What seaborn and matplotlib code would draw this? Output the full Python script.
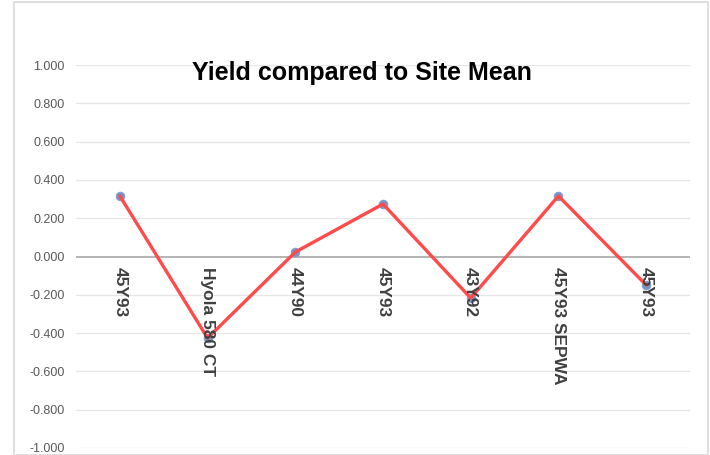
import numpy as np
import pandas as pd
import seaborn as sns
import matplotlib.pyplot as plt
from matplotlib.patches import Rectangle

varieties = ['45Y93', 'Hyola 580 CT', '44Y90', '45Y93', '43Y92', '45Y93 SEPWA', '45Y93']
yield_diff = [0.316, -0.426, 0.023, 0.274, -0.217, 0.316, -0.149]
y_ticks = [-1.0, -0.8, -0.6, -0.4, -0.2, 0.0, 0.2, 0.4, 0.6, 0.8, 1.0]

df = pd.DataFrame({'pos': np.arange(len(varieties)), 'diff': yield_diff})

sns.set_style('white')
plt.rcParams['font.family'] = ['Liberation Sans', 'DejaVu Sans']

fig = plt.figure(figsize=(7.1, 4.55), dpi=100)
ax = fig.add_axes([76 / 710, 1 - 448 / 455, 614 / 710, 383 / 455])

# chart border
fig.patches.append(Rectangle((14 / 710, 0), 694 / 710, 1 - 2 / 455, transform=fig.transFigure,
                             fill=False, edgecolor='#d9d9d9', linewidth=1.2))

for t in y_ticks:
    if t != 0:
        ax.axhline(t, color='#e6e6e6', linewidth=0.9, zorder=0)
ax.axhline(0, color='#b3b3b3', linewidth=1.4, zorder=1)

sns.scatterplot(data=df, x='pos', y='diff', ax=ax, color='#7594c8', s=40,
                edgecolor='#7f9fcf', linewidth=0.5, zorder=2, legend=False)
sns.lineplot(data=df, x='pos', y='diff', ax=ax, sort=False, color='#ff4b4b',
             linewidth=2.4, zorder=3)

for i, name in enumerate(varieties):
    ax.text(i, -0.055, name, rotation=-90, ha='center', va='top', fontsize=12.5,
            fontweight='bold', color='#404040', zorder=4)

ax.set_xlim(-0.5, len(varieties) - 0.5)
ax.set_ylim(-1.0, 1.0)
ax.set_yticks(y_ticks)
ax.set_yticklabels([f'{t:.3f}' for t in y_ticks], fontsize=9, color='#595959')
ax.tick_params(axis='y', length=0, pad=8)
ax.set_xticks([])
ax.set_xlabel('')
ax.set_ylabel('')
for s in ax.spines.values():
    s.set_visible(False)
ax.set_facecolor('none')

fig.text(362 / 710, 1 - 73 / 455, 'Yield compared to Site Mean', ha='center', va='center',
         fontsize=18, fontweight='bold', color='black')

fig.savefig('out.png', dpi=100)
